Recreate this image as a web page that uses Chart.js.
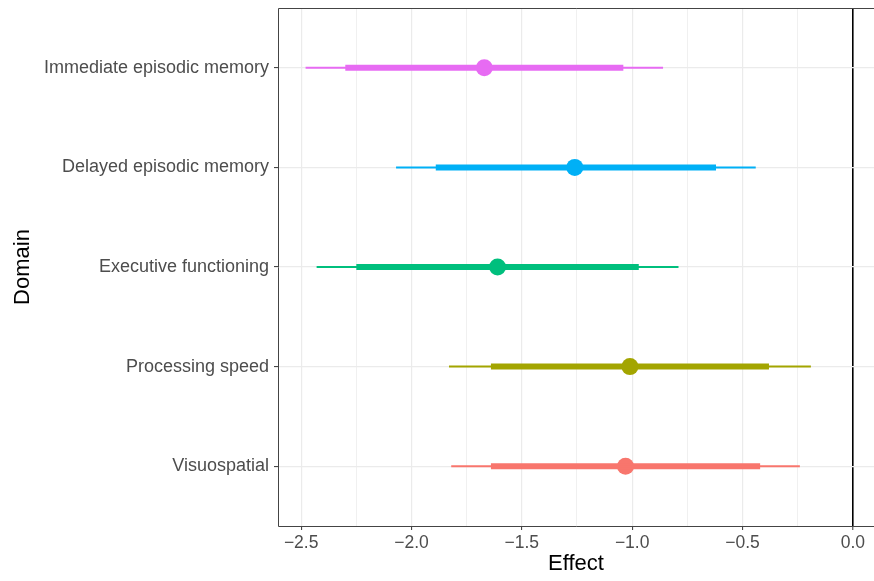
<!DOCTYPE html>
<html>
<head>
<meta charset="utf-8">
<script src="https://cdn.jsdelivr.net/npm/chart.js@4.4.0/dist/chart.umd.min.js"></script>
<style>
    html, body { margin: 0; padding: 0; background: #fff; }
</style>
</head>
<body>
<canvas id="forestChart" width="874" height="581"></canvas>
<script>
// domains listed top to bottom as in the plot
const domains = ['Immediate episodic memory', 'Delayed episodic memory', 'Executive functioning', 'Processing speed', 'Visuospatial'];
const estimates = [-1.67, -1.26, -1.61, -1.01, -1.03];
const outerLow = [-2.48, -2.07, -2.43, -1.83, -1.82];
const outerHigh = [-0.86, -0.44, -0.79, -0.19, -0.24];
const innerLow = [-2.30, -1.89, -2.25, -1.64, -1.64];
const innerHigh = [-1.04, -0.62, -0.97, -0.38, -0.42];
const domainColors = ['#E76BF3', '#00B0F6', '#00BF7D', '#A3A500', '#F8766D'];
const majorTicks = [-2.5, -2.0, -1.5, -1.0, -0.5, 0.0];
const minorTicks = [-2.25, -1.75, -1.25, -0.75, -0.25];

const FONT = "'Liberation Sans', Arial, sans-serif";
const isMajor = v => majorTicks.some(m => Math.abs(m - v) < 1e-9);
const yOf = i => domains.length - i;

const datasets = [];
domains.forEach((d, i) => {
    datasets.push({
        label: d + ' outer',
        data: [{ x: outerLow[i], y: yOf(i) }, { x: outerHigh[i], y: yOf(i) }],
        showLine: true,
        borderColor: domainColors[i],
        borderWidth: 2,
        pointRadius: 0
    });
    datasets.push({
        label: d + ' inner',
        data: [{ x: innerLow[i], y: yOf(i) }, { x: innerHigh[i], y: yOf(i) }],
        showLine: true,
        borderColor: domainColors[i],
        borderWidth: 6,
        pointRadius: 0
    });
    datasets.push({
        label: d,
        data: [{ x: estimates[i], y: yOf(i) }],
        backgroundColor: domainColors[i],
        borderWidth: 0,
        pointRadius: 8.5
    });
});

// panel border like ggplot theme_bw (right side is cut off in the original)
const panelBorder = {
    id: 'panelBorder',
    afterDraw(chart) {
        const { ctx, chartArea: a } = chart;
        ctx.save();
        ctx.strokeStyle = '#444444';
        ctx.lineWidth = 1;
        ctx.beginPath();
        ctx.moveTo(a.right + 1, a.top + 0.5);
        ctx.lineTo(a.left + 0.5, a.top + 0.5);
        ctx.lineTo(a.left + 0.5, a.bottom + 0.5);
        ctx.lineTo(a.right + 1, a.bottom + 0.5);
        ctx.stroke();
        ctx.restore();
    }
};

new Chart(document.getElementById('forestChart'), {
    type: 'scatter',
    data: { datasets: datasets },
    options: {
        responsive: false,
        animation: false,
        layout: { autoPadding: false, padding: { left: 0, top: 8, right: 0, bottom: 0 } },
        plugins: { legend: { display: false }, tooltip: { enabled: false } },
        scales: {
            x: {
                type: 'linear',
                min: -2.605,
                max: 0.096,
                afterBuildTicks: scale => {
                    scale.ticks = majorTicks.concat(minorTicks).sort((a, b) => a - b).map(v => ({ value: v }));
                },
                afterFit: scale => {
                    scale.height = 55;
                    scale.paddingLeft = 0;
                    scale.paddingRight = 0;
                },
                border: { display: false },
                grid: {
                    color: c => c.tick && c.tick.value === 0 ? '#000000' : (isMajor(c.tick.value) ? '#EBEBEB' : '#F0F0F0'),
                    lineWidth: c => c.tick && c.tick.value === 0 ? 1.6 : (isMajor(c.tick.value) ? 1.2 : 1),
                    tickColor: c => isMajor(c.tick.value) ? '#333333' : 'rgba(0,0,0,0)',
                    tickLength: 4,
                    tickWidth: 1
                },
                ticks: {
                    font: { family: FONT, size: 17.5 },
                    color: '#4D4D4D',
                    padding: 3,
                    maxRotation: 0,
                    autoSkip: false,
                    callback: v => isMajor(v) ? v.toFixed(1).replace('-', '\u2212') : ''
                },
                title: {
                    display: true,
                    text: 'Effect',
                    font: { family: FONT, size: 22 },
                    color: '#000000',
                    padding: { top: 4, bottom: 4 }
                }
            },
            y: {
                type: 'linear',
                min: 0.4,
                max: 5.6,
                afterBuildTicks: scale => {
                    scale.ticks = domains.map((d, i) => ({ value: yOf(i) }));
                },
                afterFit: scale => {
                    scale.width = 278;
                    scale.paddingTop = 0;
                    scale.paddingBottom = 0;
                },
                border: { display: false },
                grid: {
                    color: '#EBEBEB',
                    lineWidth: 1.2,
                    tickColor: '#333333',
                    tickLength: 4,
                    tickWidth: 1
                },
                ticks: {
                    font: { family: FONT, size: 18 },
                    color: '#4D4D4D',
                    padding: 5,
                    autoSkip: false,
                    callback: v => domains[domains.length - v]
                },
                title: {
                    display: true,
                    text: 'Domain',
                    font: { family: FONT, size: 22 },
                    color: '#000000',
                    padding: { top: 10, bottom: 0 }
                }
            }
        }
    },
    plugins: [panelBorder]
});
</script>
</body>
</html>
